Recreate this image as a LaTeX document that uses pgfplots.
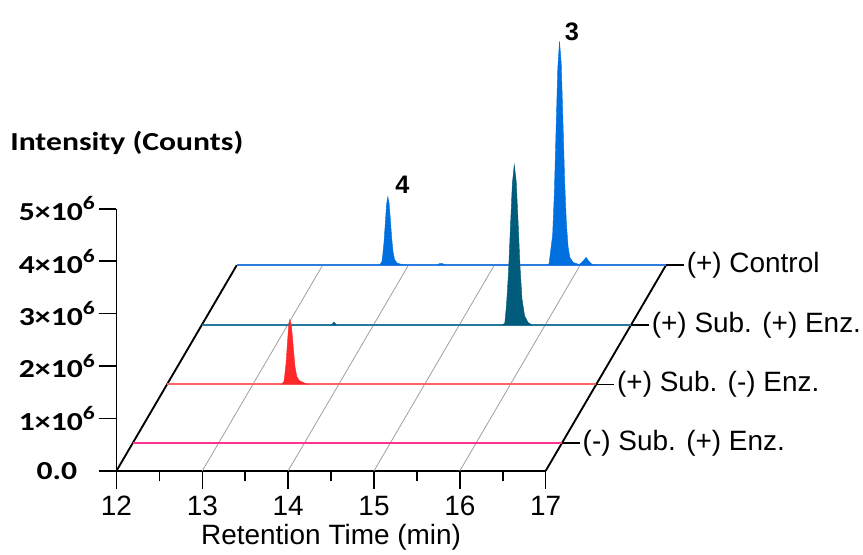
\documentclass[border=0pt]{standalone}
\usepackage{fontspec}
\setmainfont{Liberation Sans}
\newfontfamily\carlito[FakeStretch=1.22]{Carlito}
\usepackage{pgfplots}
\pgfplotsset{compat=1.18}
\definecolor{ctrlLine}{RGB}{45,125,225}
\definecolor{ctrlFill}{RGB}{0,112,225}
\definecolor{tealLine}{RGB}{40,120,155}
\definecolor{tealFill}{RGB}{0,92,122}
\definecolor{redLine}{RGB}{255,100,100}
\definecolor{redFill}{RGB}{255,40,40}
\definecolor{magLine}{RGB}{255,50,145}
\newcommand{\sci}[1]{#1×10\raisebox{0.42em}{\fontsize{14.5}{14.5}\selectfont 6}}
\begin{document}
\begin{tikzpicture}
\begin{axis}[
  x=64.5pt, y=39.375pt,
  xmin=12, xmax=17, ymin=0, ymax=5,
  enlargelimits=false, clip=false,
  axis lines=left,
  axis line style={-, line width=1.4pt, black},
  every outer x axis line/.append style={-},
  every outer y axis line/.append style={-},
  xtick={12,13,14,15,16,17},
  xticklabels={12,13,14,15,16,17},
  minor xtick={12.5,13.5,14.5,15.5,16.5},
  ytick={0,1,2,3,4,5},
  yticklabels={0.0,\sci{1},\sci{2},\sci{3},\sci{4},\sci{5}},
  tick align=outside,
  major tick length=13.5pt, minor tick length=8pt,
  tick style={black, line width=1.2pt},
  xticklabel style={font=\fontsize{21}{24}\selectfont, anchor=center, yshift=-13pt},
  yticklabel style={font=\carlito\bfseries\fontsize{19.5}{20}\selectfont, anchor=center, xshift=-31.3pt},
  ctrl/.style={x filter/.expression={x+1.401}, y filter/.expression={y+3.924}},
  tealt/.style={x filter/.expression={x+0.994}, y filter/.expression={y+2.781}},
  redt/.style={x filter/.expression={x+0.590}, y filter/.expression={y+1.651}},
  magt/.style={x filter/.expression={x+0.189}, y filter/.expression={y+0.528}},
]
% invisible frame fixing the picture size
\path (axis cs:10.643,-1.53) rectangle (axis cs:20.678,8.985);
% oblique grid lines
\addplot[gray!75, line width=0.6pt] coordinates {(13,0) (14.401,3.924)};
\addplot[gray!75, line width=0.6pt] coordinates {(14,0) (15.401,3.924)};
\addplot[gray!75, line width=0.6pt] coordinates {(15,0) (16.401,3.924)};
\addplot[gray!75, line width=0.6pt] coordinates {(16,0) (17.401,3.924)};
% oblique edges
\addplot[black, line width=1.4pt] coordinates {(12,0) (13.401,3.924)};
\addplot[black, line width=1.4pt] coordinates {(17,0) (18.401,3.924)};
% (+) Control
\addplot[ctrl, draw=ctrlLine, line width=1.4pt] coordinates {(12,0) (17,0)};
\addplot[ctrl, draw=ctrlFill, fill=ctrlFill, line width=0.3pt] coordinates {
(13.66,0) (13.69,0.06) (13.70,0.18) (13.715,0.43) (13.73,0.79) (13.745,1.16) (13.76,1.31)
(13.775,1.18) (13.79,0.86) (13.805,0.52) (13.82,0.26) (13.84,0.10) (13.87,0.04) (13.92,0.015) (13.97,0)};
\addplot[ctrl, draw=ctrlFill, fill=ctrlFill, line width=0.3pt] coordinates {
(14.33,0) (14.36,0.03) (14.40,0.03) (14.43,0)};
\addplot[ctrl, draw=ctrlFill, fill=ctrlFill, line width=0.3pt] coordinates {
(15.63,0) (15.64,0.05) (15.68,0.58) (15.70,1.39) (15.72,2.59) (15.74,3.77) (15.76,4.27)
(15.78,3.85) (15.80,2.75) (15.82,1.60) (15.84,0.80) (15.86,0.35) (15.88,0.15) (15.92,0.05)
(15.98,0.02) (16.00,0.02) (16.04,0.09) (16.07,0.15) (16.10,0.08) (16.14,0.01) (16.17,0)};
% (+) Sub. (+) Enz.
\addplot[tealt, draw=tealLine, line width=1.4pt] coordinates {(12,0) (17,0)};
\addplot[tealt, draw=tealFill, fill=tealFill, line width=0.3pt] coordinates {
(13.51,0) (13.54,0.06) (13.57,0)};
\addplot[tealt, draw=tealFill, fill=tealFill, line width=0.3pt] coordinates {
(15.50,0) (15.53,0.04) (15.55,0.40) (15.5725,1.00) (15.595,1.86) (15.6175,2.70) (15.64,3.06)
(15.6625,2.75) (15.685,1.95) (15.7075,1.10) (15.73,0.50) (15.76,0.18) (15.80,0.05) (15.85,0)};
% (+) Sub. (-) Enz.
\addplot[redt, draw=redLine, line width=1.4pt] coordinates {(12,0) (17,0)};
\addplot[redt, draw=redFill, fill=redFill, line width=0.3pt] coordinates {
(13.33,0) (13.36,0.05) (13.37,0.17) (13.385,0.40) (13.40,0.75) (13.415,1.10) (13.43,1.24)
(13.445,1.15) (13.46,0.90) (13.475,0.60) (13.49,0.33) (13.51,0.15) (13.54,0.07) (13.58,0.04) (13.62,0.01) (13.65,0)};
% (-) Sub. (+) Enz.
\addplot[magt, draw=magLine, line width=1.4pt] coordinates {(12,0) (17,0)};
% right-hand labels
\draw[black, line width=1.2pt] (axis cs:18.401,3.924) -- (axis cs:18.611,3.924)
  node[anchor=west, inner sep=1.5pt, font=\fontsize{21}{24}\selectfont] {(+) Control};
\draw[black, line width=1.2pt] (axis cs:17.994,2.781) -- (axis cs:18.204,2.781)
  node[anchor=west, inner sep=1.5pt, font=\fontsize{21}{24}\selectfont] {(+) Sub. (+) Enz.};
\draw[black, line width=1.2pt] (axis cs:17.590,1.651) -- (axis cs:17.800,1.651)
  node[anchor=west, inner sep=1.5pt, font=\fontsize{21}{24}\selectfont] {(+) Sub. (-) Enz.};
\draw[black, line width=1.2pt] (axis cs:17.189,0.528) -- (axis cs:17.399,0.528)
  node[anchor=west, inner sep=1.5pt, font=\fontsize{21}{24}\selectfont] {(-) Sub. (+) Enz.};
% peak labels
\node[font=\bfseries\fontsize{19}{20}\selectfont] at (axis cs:15.33,5.46) {4};
\node[font=\bfseries\fontsize{19}{20}\selectfont] at (axis cs:17.306,8.38) {3};
% axis titles
\node[anchor=west, inner sep=0pt, font=\carlito\bfseries\fontsize{19.5}{20}\selectfont] at (axis cs:10.76,6.26) {Intensity (Counts)};
\node[font=\fontsize{21}{24}\selectfont] at (axis cs:14.5,-1.263) {Retention Time (min)};
\end{axis}
\end{tikzpicture}
\end{document}
